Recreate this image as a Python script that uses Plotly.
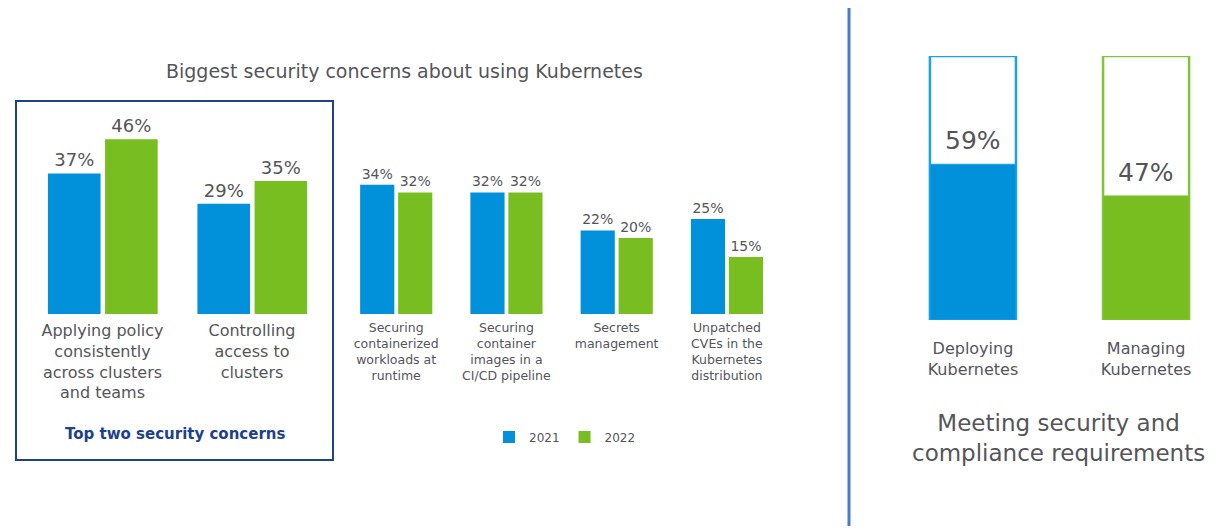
import plotly.graph_objects as go

# ---------------- data ----------------
top_categories = ["Applying policy<br>consistently<br>across clusters<br>and teams",
                  "Controlling<br>access to<br>clusters"]
top_2021 = [37, 29]
top_2022 = [46, 35]

other_categories = ["Securing<br>containerized<br>workloads at<br>runtime",
                    "Securing<br>container<br>images in a<br>CI/CD pipeline",
                    "Secrets<br>management",
                    "Unpatched<br>CVEs in the<br>Kubernetes<br>distribution"]
other_2021 = [34, 32, 22, 25]
other_2022 = [32, 32, 20, 15]

compliance_categories = ["Deploying<br>Kubernetes", "Managing<br>Kubernetes"]
compliance_values = [59, 47]
compliance_total = [100, 100]

# ---------------- style ----------------
PAGE_W, PAGE_H = 1223, 530
OFF = 8  # default page margin around the plot
W, H = PAGE_W - OFF, PAGE_H - OFF
BLUE = "#0091da"
GREEN = "#78be20"
BLUE_LINE = "#1aa3e8"
GREEN_LINE = "#80c43a"
TEXT = "#555559"
DARK = "#1d428a"
FONT = "DejaVu Sans"


def px(x):
    return (x - OFF) / W


def py(y):
    return 1 - (y - OFF) / H


fig = go.Figure()

# top two concerns
fig.add_trace(go.Bar(x=top_categories, y=top_2021, xaxis="x", yaxis="y",
                     marker=dict(color=BLUE, line=dict(width=0)), width=0.352, offset=-0.365,
                     texttemplate="%{y}%", textposition="outside",
                     textfont=dict(size=18, color=TEXT), cliponaxis=False,
                     showlegend=False, name="2021"))
fig.add_trace(go.Bar(x=top_categories, y=top_2022, xaxis="x", yaxis="y",
                     marker=dict(color=GREEN, line=dict(width=0)), width=0.352, offset=0.017,
                     texttemplate="%{y}%", textposition="outside",
                     textfont=dict(size=18, color=TEXT), cliponaxis=False,
                     showlegend=False, name="2022"))

# other concerns
fig.add_trace(go.Bar(x=other_categories, y=other_2021, xaxis="x2", yaxis="y",
                     marker=dict(color=BLUE, line=dict(width=0)), width=0.31, offset=-0.3265,
                     texttemplate="%{y}%", textposition="outside",
                     textfont=dict(size=14, color=TEXT), cliponaxis=False,
                     name="2021"))
fig.add_trace(go.Bar(x=other_categories, y=other_2022, xaxis="x2", yaxis="y",
                     marker=dict(color=GREEN, line=dict(width=0)), width=0.31, offset=0.018,
                     texttemplate="%{y}%", textposition="outside",
                     textfont=dict(size=14, color=TEXT), cliponaxis=False,
                     name="2022"))

# compliance
comp_fill = [BLUE, GREEN]
comp_line = [BLUE_LINE, GREEN_LINE]
fig.add_trace(go.Bar(x=compliance_categories, y=compliance_total, xaxis="x3", yaxis="y2",
                     marker=dict(color="white", line=dict(color=comp_line, width=2.5)),
                     width=0.497, offset=-0.2485, showlegend=False, hoverinfo="skip"))
fig.add_trace(go.Bar(x=compliance_categories, y=compliance_values, xaxis="x3", yaxis="y2",
                     marker=dict(color=comp_fill, line=dict(color=comp_line, width=1)),
                     width=0.497, offset=-0.2485, showlegend=False))

for c, v in zip(compliance_categories, compliance_values):
    fig.add_annotation(x=c, y=v, xref="x3", yref="y2", text=f"{v}%", showarrow=False,
                       xanchor="center", yanchor="bottom", yshift=7,
                       font=dict(size=25, color=TEXT, family=FONT))

fig.update_layout(
    width=W, height=H,
    margin=dict(l=0, r=0, t=0, b=0),
    paper_bgcolor="white", plot_bgcolor="white",
    barmode="overlay",
    font=dict(family=FONT, color=TEXT),
    xaxis=dict(domain=[px(27.75), px(326.75)], range=[-0.5, 1.5], showline=False,
               showgrid=False, zeroline=False, ticks="", tickfont=dict(size=16, color=TEXT),
               ticklabelstandoff=5, anchor="y", fixedrange=True),
    xaxis2=dict(domain=[px(341), px(782)], range=[-0.5, 3.5], showline=False,
                showgrid=False, zeroline=False, ticks="", tickfont=dict(size=12.5, color=TEXT),
                ticklabelstandoff=4, anchor="y", fixedrange=True),
    xaxis3=dict(domain=[px(921), px(1198)], range=[-0.3, 1.3], showline=False,
                showgrid=False, zeroline=False, ticks="", tickfont=dict(size=16, color=TEXT),
                ticklabelstandoff=17, anchor="y2", fixedrange=True),
    yaxis=dict(domain=[py(314), py(124)], range=[0, 50], visible=False, fixedrange=True),
    yaxis2=dict(domain=[py(320), py(56)], range=[0, 100], visible=False, fixedrange=True),
    legend=dict(orientation="h", x=px(489), y=py(437), xanchor="left", yanchor="middle",
                font=dict(size=12, color=TEXT), itemwidth=30, bgcolor="rgba(0,0,0,0)"),
    shapes=[
        dict(type="rect", xref="paper", yref="paper", x0=px(16), x1=px(333),
             y0=py(460), y1=py(101), line=dict(color=DARK, width=2)),
        dict(type="line", xref="paper", yref="paper", x0=px(849), x1=px(849),
             y0=py(526), y1=py(OFF - 10), line=dict(color="#4a7bd0", width=3)),
    ],
    annotations=list(fig.layout.annotations) + [
        dict(text="Biggest security concerns about using Kubernetes", xref="paper", yref="paper",
             x=px(404), y=py(71), xanchor="center", yanchor="middle", showarrow=False,
             font=dict(size=19, color=TEXT)),
        dict(text="<b>Top two security concerns</b>", xref="paper", yref="paper",
             x=px(175), y=py(434), xanchor="center", yanchor="middle", showarrow=False,
             font=dict(size=15, color=DARK)),
        dict(text="Meeting security and<br>compliance requirements", xref="paper", yref="paper",
             x=px(1058), y=py(438), xanchor="center", yanchor="middle", showarrow=False,
             font=dict(size=23, color=TEXT)),
    ],
)

fig.write_html("out.html")
